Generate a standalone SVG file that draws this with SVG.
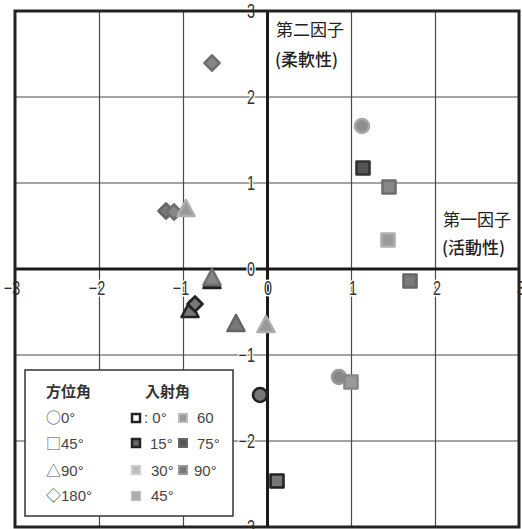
<svg xmlns="http://www.w3.org/2000/svg" width="522" height="529" viewBox="0 0 522 529">
<style>
.grid{stroke:#4a4a4a;stroke-width:1.2;fill:none}
.axis{stroke:#1a1a1a;stroke-width:3;fill:none}
.frame{stroke:#222;stroke-width:3;fill:none}
.tick{font-family:"Liberation Sans",Arial,sans-serif;font-size:20px;fill:#333;stroke:#fff;stroke-width:3;paint-order:stroke;stroke-linejoin:round}
.title{font-family:"Noto Sans CJK JP","Noto Sans CJK SC",sans-serif;font-size:17px;fill:#222}
.lgh{font-family:"Noto Sans CJK JP","Noto Sans CJK SC",sans-serif;font-size:15px;font-weight:bold;fill:#333}
.lgt{font-family:"Liberation Sans","Noto Sans CJK JP",sans-serif;font-size:15px;fill:#444}
.sym{font-family:"Noto Sans CJK JP","Noto Sans CJK SC",sans-serif;font-size:15px;fill:#555}
.m{stroke-width:2.6;stroke-linejoin:round}
.s15{fill:#777;stroke:#222}
.sd{fill:#555;stroke:#333}
.smid{fill:#878787;stroke:#6e6e6e}
.slt{fill:#999;stroke:#aeaeae}
.sdk{fill:#7a7a7a;stroke:#666}
</style>
<defs>
<rect id="sq" x="-6.5" y="-6.5" width="13" height="13"/>
<circle id="ci" r="7"/>
<polygon id="tr" points="0,-9 -8.5,7 8.5,7"/>
<polygon id="di" points="0,-7.5 7.5,0 0,7.5 -7.5,0"/>
<rect id="lsq" x="-4" y="-4" width="8" height="8"/>
</defs>
<rect width="522" height="529" fill="#fff"/>
<g id="gridlines">
<line class="grid" x1="99.5" y1="11" x2="99.5" y2="527"/>
<line class="grid" x1="183.5" y1="11" x2="183.5" y2="527"/>
<line class="grid" x1="351.5" y1="11" x2="351.5" y2="527"/>
<line class="grid" x1="435.5" y1="11" x2="435.5" y2="527"/>
<line class="grid" x1="15" y1="97" x2="519" y2="97"/>
<line class="grid" x1="15" y1="183" x2="519" y2="183"/>
<line class="grid" x1="15" y1="355" x2="519" y2="355"/>
<line class="grid" x1="15" y1="441" x2="519" y2="441"/>
</g>
<g id="axes">
<line class="axis" x1="267.5" y1="11" x2="267.5" y2="527"/>
<line class="axis" x1="15" y1="269" x2="519" y2="269"/>
</g>
<g id="tick-labels">
<text class="tick" transform="translate(255 18) scale(0.72 1)" text-anchor="end">3</text>
<text class="tick" transform="translate(255 104) scale(0.72 1)" text-anchor="end">2</text>
<text class="tick" transform="translate(255 190) scale(0.72 1)" text-anchor="end">1</text>
<text class="tick" transform="translate(255 276) scale(0.72 1)" text-anchor="end">0</text>
<text class="tick" transform="translate(255 362) scale(0.72 1)" text-anchor="end">−1</text>
<text class="tick" transform="translate(255 448) scale(0.72 1)" text-anchor="end">−2</text>
<text class="tick" transform="translate(255 534) scale(0.72 1)" text-anchor="end">−3</text>
<text class="tick" transform="translate(12 295) scale(0.72 1)" text-anchor="middle">−3</text>
<text class="tick" transform="translate(97 295) scale(0.72 1)" text-anchor="middle">−2</text>
<text class="tick" transform="translate(181 295) scale(0.72 1)" text-anchor="middle">−1</text>
<text class="tick" transform="translate(268 295) scale(0.72 1)" text-anchor="middle">0</text>
<text class="tick" transform="translate(353 295) scale(0.72 1)" text-anchor="middle">1</text>
<text class="tick" transform="translate(437 295) scale(0.72 1)" text-anchor="middle">2</text>
<text class="tick" transform="translate(521 295) scale(0.72 1)" text-anchor="middle">3</text>
</g>
<g id="axis-titles">
<text class="title" x="276" y="36">第二因子</text>
<text class="title" x="275" y="66" font-weight="500">(柔軟性)</text>
<text class="title" x="443" y="226">第一因子</text>
<text class="title" x="442" y="254" font-weight="500">(活動性)</text>
</g>
<g id="points">
<g id="p1"><use href="#di" class="m smid" x="212" y="63"/></g>
<g id="p2"><use href="#ci" class="m" x="362" y="126" style="fill:#8e8e8e;stroke:#a8a8a8"/></g>
<g id="p3"><use href="#sq" class="m sd" x="363" y="168"/></g>
<g id="p4"><use href="#sq" class="m smid" x="389" y="187"/></g>
<g id="p5"><use href="#sq" class="m slt" x="388" y="240"/></g>
<g id="p6"><use href="#sq" class="m sdk" x="410" y="281"/></g>
<g id="p7"><use href="#di" class="m sdk" x="166" y="211"/></g>
<g id="p8"><use href="#di" class="m smid" x="174" y="212"/></g>
<g id="p9"><use href="#tr" class="m slt" x="186" y="209"/></g>
<g id="p10"><use href="#tr" class="m" x="212" y="281" style="fill:#333;stroke:#222"/></g>
<g id="p11"><use href="#tr" class="m smid" x="212" y="278"/></g>
<g id="p12"><use href="#tr" class="m s15" x="190" y="310"/></g>
<g id="p13"><use href="#di" class="m s15" x="195" y="304"/></g>
<g id="p14"><use href="#tr" class="m sdk" x="236" y="324"/></g>
<g id="p15"><use href="#tr" class="m slt" x="266" y="325"/></g>
<g id="p16"><use href="#ci" class="m" x="339" y="377" style="fill:#878787;stroke:#999"/></g>
<g id="p17"><use href="#sq" class="m" x="351" y="382" style="fill:#9a9a9a;stroke:#888"/></g>
<g id="p18"><use href="#ci" class="m s15" x="260" y="395"/></g>
<g id="p19"><use href="#sq" class="m s15" x="277" y="481"/></g>
</g>
<g id="legend">
<rect x="25" y="370" width="208" height="146" fill="#fff" stroke="#333" stroke-width="1.5"/>
<text class="lgh" x="46" y="397">方位角</text>
<text class="lgh" x="145" y="397">入射角</text>
<text class="sym" x="46" y="423">○<tspan class="lgt">0°</tspan></text>
<text class="sym" x="46" y="449">□<tspan class="lgt">45°</tspan></text>
<text class="sym" x="46" y="476">△<tspan class="lgt">90°</tspan></text>
<text class="sym" x="46" y="501">◇<tspan class="lgt">180°</tspan></text>
<use href="#lsq" x="136" y="418" style="fill:#fff;stroke:#222;stroke-width:2.5"/>
<use href="#lsq" x="136" y="443" style="fill:#666;stroke:#222;stroke-width:2.5"/>
<use href="#lsq" x="136" y="470" style="fill:#bbb;stroke:#ccc;stroke-width:2"/>
<use href="#lsq" x="136" y="496" style="fill:#aaa;stroke:#bbb;stroke-width:2"/>
<use href="#lsq" x="183" y="418" style="fill:#999;stroke:#bbb;stroke-width:2"/>
<use href="#lsq" x="183" y="443" style="fill:#555;stroke:#666;stroke-width:2"/>
<use href="#lsq" x="183" y="470" style="fill:#777;stroke:#999;stroke-width:2"/>
<text class="lgt" x="144" y="423">:  0°</text>
<text class="lgt" x="150" y="449">15°</text>
<text class="lgt" x="151" y="476">30°</text>
<text class="lgt" x="151" y="501">45°</text>
<text class="lgt" x="197" y="423">60</text>
<text class="lgt" x="197" y="449">75°</text>
<text class="lgt" x="194" y="476">90°</text>
</g>
<rect class="frame" x="15" y="11" width="504" height="516"/>
</svg>
